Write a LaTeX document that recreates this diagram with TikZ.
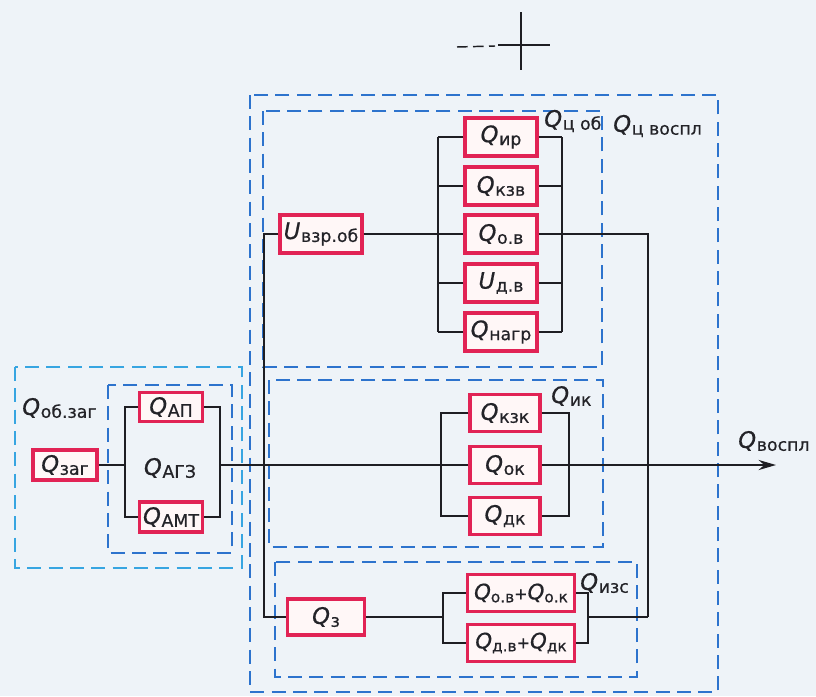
\documentclass[tikz,border=0pt]{standalone}
\usepackage{fontspec}
\setmainfont{DejaVu Sans}[FakeBold=0.6]
\usetikzlibrary{arrows.meta}
\definecolor{bgc}{RGB}{238,243,248}
\definecolor{boxred}{RGB}{225,35,85}
\definecolor{dblue}{RGB}{45,115,205}
\definecolor{lblue}{RGB}{55,165,225}
\definecolor{ink}{RGB}{30,30,35}
\definecolor{txt}{RGB}{35,35,40}
\newcommand{\QQ}[2]{{\fontsize{17}{17}\selectfont\itshape #1}\kern0.5pt\raisebox{-0.4ex}{\fontsize{13}{13}\selectfont #2}}
\newcommand{\QS}[2]{{\fontsize{16}{16}\selectfont\itshape #1}\raisebox{-0.4ex}{\fontsize{11.5}{12}\selectfont #2}}
\begin{document}
\begin{tikzpicture}[x=0.75pt,y=-0.75pt,
  rbox/.style={draw=boxred, line width=2.6pt, fill=white!97!red, inner sep=0pt, text=txt},
  bdash/.style={draw=dblue, line width=2pt, dash pattern=on 10.5pt off 5.5pt},
  cdash/.style={draw=lblue, line width=1.8pt, dash pattern=on 10.5pt off 5.5pt},
  wire/.style={draw=ink, line width=1.7pt},
  lab/.style={text=txt, inner sep=0pt, anchor=west}]
\fill[bgc] (0,0) rectangle (816,696);
\useasboundingbox (0,0) rectangle (816,696);

% dashed frames
\draw[bdash] (250,95) rectangle (718,692);
\draw[bdash] (263,111) rectangle (602,367);
\draw[bdash] (269,380) rectangle (603,547);
\draw[bdash] (275,562) rectangle (637,677);
\draw[cdash] (15,367) rectangle (242,568);
\draw[bdash] (108,385) rectangle (232,553);

% cross mark at top
\coordinate (cl) at (457,47);
\coordinate (cm) at (495,46);
\coordinate (ch1) at (498,45);
\coordinate (ch2) at (550,45);
\coordinate (cv1) at (521,12);
\coordinate (cv2) at (521,70);
\draw[wire, line width=1.1pt, dash pattern=on 8pt off 4pt] (cl) -- (cm);
\draw[wire, line width=1.1pt] (ch1) -- (ch2);
\draw[wire, line width=1.1pt] (cv1) -- (cv2);

% left group nodes
\node[rbox, minimum width=48pt, minimum height=22.5pt] (Qzag) at (65,465) {\QQ{Q}{заг}};
\node[rbox, minimum width=47pt, minimum height=22pt] (QAP) at (171,407) {\QQ{Q}{АП}};
\node[rbox, minimum width=47pt, minimum height=22.5pt] (QAMT) at (171,517) {\QQ{Q}{АМТ}};
\node[lab, anchor=center] (lAGZ) at (170,468) {\QQ{Q}{АГЗ}};
\node[lab] (lobzag) at (22,408) {\QQ{Q}{об.заг}};

% upper group
\node[rbox, minimum width=61.5pt, minimum height=28.5pt] (Uvzr) at (321,234) {\QQ{U}{взр.об}};
\node[rbox, minimum width=54pt, minimum height=28.5pt] (Qir) at (501,137) {\QQ{Q}{ир}};
\node[rbox, minimum width=54pt, minimum height=28.5pt] (Qkzv) at (501,186) {\QQ{Q}{кзв}};
\node[rbox, minimum width=54pt, minimum height=28.5pt] (Qov) at (501,234) {\QQ{Q}{о.в}};
\node[rbox, minimum width=54pt, minimum height=28.5pt] (Udv) at (501,283) {\QQ{U}{д.в}};
\node[rbox, minimum width=54pt, minimum height=28.5pt] (Qnagr) at (501,332) {\QQ{Q}{нагр}};
\node[lab] (lcob) at (544,121) {\QQ{Q}{ц об}};
\node[lab] (lcvospl) at (613,126) {\QQ{Q}{ц воспл}};

% middle group
\node[rbox, minimum width=52.5pt, minimum height=27.5pt] (Qkzk) at (505,413) {\QQ{Q}{кзк}};
\node[rbox, minimum width=52.5pt, minimum height=27.5pt] (Qok) at (505,465) {\QQ{Q}{ок}};
\node[rbox, minimum width=52.5pt, minimum height=27.5pt] (Qdk) at (505,516) {\QQ{Q}{дк}};
\node[lab] (lik) at (551,396) {\QQ{Q}{ик}};

% bottom group
\node[rbox, minimum width=58pt, minimum height=27pt] (Qz) at (326,617) {\QQ{Q}{з}};
\node[rbox, minimum width=80pt, minimum height=27.5pt] (Qovok) at (521,593) {\QS{Q}{о.в}{\fontsize{12}{12}\selectfont +}\QS{Q}{о.к}};
\node[rbox, minimum width=80pt, minimum height=27.5pt] (Qdvdk) at (521,643) {\QS{Q}{д.в}{\fontsize{12}{12}\selectfont +}\QS{Q}{дк}};
\node[lab] (lizs) at (580,583) {\QQ{Q}{изс}};

% output label
\node[lab] (lvospl) at (738,441) {\QQ{Q}{воспл}};

% ---- connectors ----
% left group
\coordinate (aL) at (125,465);
\coordinate (aR) at (220,465);
\draw[wire] (Qzag.east) -- (aL);
\draw[wire] (QAP.west) -| (aL) |- (QAMT.west);
\draw[wire] (QAP.east) -| (aR) |- (QAMT.east);

% main line with arrow
\coordinate (aend) at (776,465);
\draw[wire] (aR) -- (Qok.west);
\draw[wire, -{Stealth[length=13pt,width=7.5pt]}] (Qok.east) -- (aend);

% main vertical
\coordinate (vt) at (264,234);
\coordinate (vb) at (264,617);
\draw[wire] (Uvzr.west) -- (vt) -- (vb) -- (Qz.west);

% upper parallel group
\coordinate (uLt) at (438,137);
\coordinate (uLb) at (438,332);
\coordinate (uRt) at (562,137);
\coordinate (uRb) at (562,332);
\draw[wire] (uLt) -- (uLb);
\draw[wire] (uRt) -- (uRb);
\draw[wire] (Uvzr.east) -- (Qov.west);
\foreach \n in {Qir,Qkzv,Udv,Qnagr}{
  \draw[wire] (\n.west) -- (\n.west -| uLt);
  \draw[wire] (\n.east) -- (\n.east -| uRt);
}
% right return line
\coordinate (rt) at (648,234);
\coordinate (rb) at (648,617);
\draw[wire] (Qov.east) -- (rt) -- (rb);

% middle parallel group
\coordinate (kLt) at (441,413);
\coordinate (kLb) at (441,516);
\coordinate (kRt) at (569,413);
\coordinate (kRb) at (569,516);
\draw[wire] (Qkzk.west) -| (kLt) -- (kLb) -- (Qdk.west);
\draw[wire] (Qkzk.east) -| (kRt) -- (kRb) -- (Qdk.east);

% bottom parallel group
\coordinate (zL) at (443,617);
\coordinate (zR) at (588,617);
\draw[wire] (Qz.east) -- (zL);
\draw[wire] (Qovok.west) -| (zL) |- (Qdvdk.west);
\draw[wire] (Qovok.east) -| (zR) |- (Qdvdk.east);
\draw[wire] (zR) -- (rb);
\end{tikzpicture}
\end{document}
